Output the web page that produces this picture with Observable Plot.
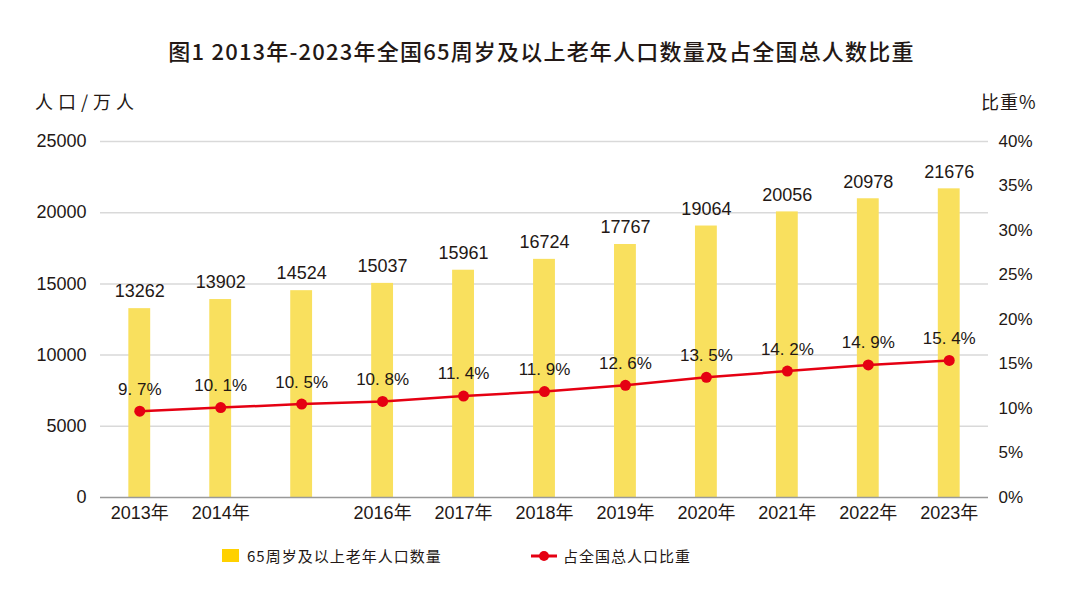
<!DOCTYPE html>
<html>
<head>
<meta charset="utf-8">
<script src="https://cdn.jsdelivr.net/npm/d3@7"></script>
<script src="https://cdn.jsdelivr.net/npm/@observablehq/plot@0.6"></script>
<style>
  body { margin: 0; background: #fff; font-family: "Liberation Sans", "Noto Sans CJK SC", sans-serif; color: #231815; }
  #wrap { position: relative; width: 1083px; height: 589px; overflow: hidden; }
  #title { position: absolute; top: 34px; left: 0; width: 1083px; text-align: center; font-size: 22px; font-weight: 500; font-family: "Noto Sans CJK SC", sans-serif; letter-spacing: 1.2px; }
  .axlab { position: absolute; top: 88px; font-size: 18px; font-family: "Noto Sans CJK SC", sans-serif; }
  #chart { position: absolute; top: 75px; left: 0; }
  #legend { position: absolute; top: 545px; left: 0; width: 1083px; font-size: 15px; font-family: "Noto Sans CJK SC", sans-serif; letter-spacing: 1px; }
  .li { position: absolute; display: flex; align-items: center; }
</style>
</head>
<body>
<div id="wrap">
  <div id="title">图1 2013年-2023年全国65周岁及以上老年人口数量及占全国总人数比重</div>
  <div class="axlab" style="left:35px; letter-spacing:5px;">人口/万人</div>
  <div class="axlab" style="left:981px; letter-spacing:1px;">比重%</div>
  <div id="chart"></div>
  <div id="legend">
    <div class="li" style="left:222px; top:0px;">
      <span style="display:inline-block;width:17px;height:13px;background:#FFD100;margin-right:8px;"></span>
      <span>65周岁及以上老年人口数量</span>
    </div>
    <div class="li" style="left:531px; top:0px;">
      <svg width="26" height="14" style="margin-right:6px;"><line x1="0" y1="7" x2="26" y2="7" stroke="#E50012" stroke-width="3"/><circle cx="13" cy="7" r="5" fill="#E50012"/></svg>
      <span>占全国总人口比重</span>
    </div>
  </div>
</div>
<script>
const years = ["2013","2014","2015","2016","2017","2018","2019","2020","2021","2022","2023"];
const population = [13262, 13902, 14524, 15037, 15961, 16724, 17767, 19064, 20056, 20978, 21676];
const ratio = [9.7, 10.1, 10.5, 10.8, 11.4, 11.9, 12.6, 13.5, 14.2, 14.9, 15.4];
const leftTicks = [0, 5000, 10000, 15000, 20000, 25000];
const rightTicks = [0, 5, 10, 15, 20, 25, 30, 35, 40];
const hiddenYearLabels = ["2015"];

const yMax = 25000, rMax = 40;
const k = yMax / rMax;
const data = years.map((y, i) => ({year: y, pop: population[i], ratio: ratio[i], r: ratio[i] * k}));

const fmtRatio = v => {
  const s = v.toFixed(1).split(".");
  return s[0] + ". " + s[1] + "%";
};

const chart = Plot.plot({
  width: 1083,
  height: 455,
  marginTop: 66,
  marginBottom: 33,
  marginLeft: 100,
  marginRight: 95,
  style: {fontFamily: "'Liberation Sans', 'Noto Sans CJK SC', sans-serif", fontSize: "17px", color: "#231815", background: "transparent"},
  x: {domain: years, paddingInner: 0.73, paddingOuter: 0.35, round: false, label: null},
  y: {domain: [0, yMax], label: null},
  marks: [
    Plot.gridY(leftTicks.slice(1), {stroke: "#d9d9d9", strokeOpacity: 1, strokeWidth: 1.5}),
    Plot.barY(data, {x: "year", y: "pop", fill: "#F9E05E"}),
    Plot.ruleY([0], {stroke: "#999", strokeWidth: 1.5}),
    Plot.axisY(leftTicks, {anchor: "left", tickSize: 0, tickPadding: 14, fontSize: 18, label: null, tickFormat: d => String(d)}),
    Plot.axisY(rightTicks.map(v => v * k), {anchor: "right", tickSize: 0, tickPadding: 10, fontSize: 17, label: null, textAnchor: "start", tickFormat: d => Math.round(d / k) + "%"}),
    Plot.axisX({tickSize: 0, tickPadding: 9, fontSize: 18, fontFamily: "'Liberation Sans', 'Noto Sans CJK SC', sans-serif", label: null, tickFormat: d => hiddenYearLabels.includes(d) ? "" : d + "年"}),
    Plot.text(data, {x: "year", y: "pop", text: d => String(d.pop), dy: -17, fontSize: 18, fill: "#231815"}),
    Plot.line(data, {x: "year", y: "r", stroke: "#E50012", strokeWidth: 2.5}),
    Plot.dot(data, {x: "year", y: "r", r: 5.5, fill: "#E50012"}),
    Plot.text(data, {x: "year", y: "r", text: d => fmtRatio(d.ratio), dy: -22, fontSize: 17, fill: "#231815"})
  ]
});
document.getElementById("chart").appendChild(chart);
</script>
</body>
</html>
